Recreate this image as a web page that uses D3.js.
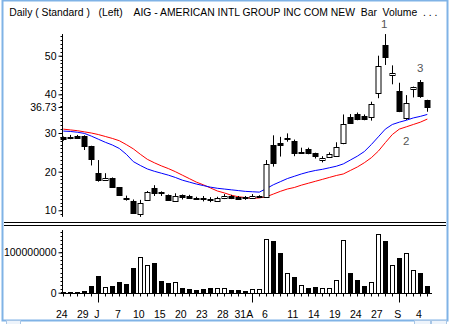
<!DOCTYPE html>
<html><head><meta charset="utf-8">
<script src="https://cdn.jsdelivr.net/npm/d3@7/dist/d3.min.js"></script>
<style>body{margin:0;background:#fff}svg{display:block}text{font-family:"Liberation Sans",Arial,sans-serif}</style>
</head><body><svg id="c" width="449" height="324"></svg>
<script>
const dates = ["6/24","6/25","6/26","6/29","6/30","7/1","7/2","7/6","7/7","7/8","7/9","7/10","7/13","7/14","7/15","7/16","7/17","7/20","7/21","7/22","7/23","7/24","7/27","7/28","7/29","7/30","7/31","8/3","8/4","8/5","8/6","8/7","8/10","8/11","8/12","8/13","8/14","8/17","8/18","8/19","8/20","8/21","8/24","8/25","8/26","8/27","8/28","8/31","9/1","9/2","9/3","9/4","9/8"];
const open  = [28.9,29.0,29.2,29.2,26.6,19.6,17.8,18.4,15.9,13.3,12.5,9.0,12.7,15.85,14.8,14.0,12.5,14.0,13.7,13.15,13.3,12.9,12.4,13.1,13.7,13.5,13.35,13.1,13.5,13.5,26.9,27.3,28.4,28.0,24.9,25.9,24.8,22.9,23.9,24.0,27.3,34.2,34.8,34.5,34.1,40.3,52.8,45.0,40.9,34.0,41.4,43.1,38.5];
const high  = [29.1,29.5,29.5,29.4,26.7,23.0,19.6,18.5,16.0,13.8,12.8,12.7,15.0,16.5,14.9,14.1,14.4,14.1,14.0,13.5,13.7,13.4,13.5,14.2,14.0,13.7,13.7,14.2,13.9,23.0,29.4,29.0,29.9,28.3,26.2,26.2,24.9,24.0,25.0,27.6,34.8,34.9,35.3,34.8,38.1,50.0,55.6,47.5,43.0,39.8,42.0,43.7,38.6];
const low   = [28.0,28.4,28.6,25.6,21.6,17.4,17.8,15.9,13.8,12.5,9.2,8.3,12.5,13.7,13.7,12.6,12.4,12.8,13.0,12.8,12.3,12.1,12.2,12.9,12.9,13.0,12.7,13.0,13.2,13.3,21.3,23.9,27.75,24.0,24.8,24.5,23.4,22.4,23.6,23.9,27.1,32.5,33.3,33.3,33.2,39.0,47.6,42.6,35.4,33.4,39.2,39.1,35.5];
const close = [28.5,28.9,28.8,26.6,23.2,17.8,18.4,16.1,14.0,13.0,9.4,11.8,14.7,14.4,14.4,12.7,13.7,13.5,13.3,13.05,12.9,12.8,13.3,13.7,13.1,13.0,13.25,13.8,13.6,21.9,22.3,27.0,28.8,24.9,25.2,24.9,24.0,23.5,24.6,26.5,32.2,32.7,33.7,33.6,37.4,47.4,49.7,45.4,35.8,37.7,41.8,39.6,36.73];
const volume = [2,2,2,4,16.5,41,14,16.5,26,21,60,88,69,74,29,24,26,12,9,7,9,12,12,11,7,7,5,9,9,132,129,98,48,39,18,12,14,11,11,31,131,49,31,16,26,145,129,68,86,98,56,50,17].map(v=>v*1e6);
const maBlue = [30.5,30.4,30.2,29.9,29.2,28.4,27.6,26.9,26.0,24.5,22.6,21.6,20.7,20.1,19.6,19.1,18.5,17.8,17.3,16.8,16.4,16.0,15.7,15.5,15.3,15.1,14.9,14.8,14.7,15.6,16.6,17.4,18.2,18.8,19.4,19.9,20.3,20.6,21.0,21.4,22.0,23.0,24.0,25.2,27.0,29.0,31.0,32.2,32.8,33.3,33.9,34.3,34.8];
const maRed  = [31.0,30.8,30.6,30.3,30.0,29.6,29.1,28.6,28.0,27.0,25.9,24.5,23.2,22.3,21.5,20.8,20.0,19.1,18.2,17.3,16.6,15.8,15.0,14.5,13.9,13.5,13.3,13.1,13.2,13.5,14.2,14.9,15.5,15.9,16.5,17.0,17.5,18.0,18.5,19.0,19.4,20.3,21.2,22.3,23.6,25.3,27.5,29.6,31.0,31.6,32.2,32.8,33.6];
const priceTicks = [10,20,30,36.73,40,50];
const volTicks = [0,100000000];
const xLabels = [["6/24","24"],["6/29","29"],["7/1","J"],["7/7","7"],["7/10","10"],["7/15","15"],["7/20","20"],["7/23","23"],["7/28","28"],["7/31","31A"],["8/5","6"],["8/11","11"],["8/14","14"],["8/19","19"],["8/24","24"],["8/27","27"],["9/1","S"],["9/4","4"]];
const monthStarts = ["7/1","8/3","9/1"];
const notes = [["8/28","1",-1,28],["9/4","3",0,72],["9/1","2",7,145]];
const titleText = "Daily ( Standard )   (Left)    AIG - AMERICAN INTL GROUP INC COM NEW  Bar  Volume  . . .";

const svg = d3.select("#c");
const frameCol = "#80b3e6";
svg.append("rect").attr("x",2.5).attr("y",0.5).attr("width",445).attr("height",320).attr("fill","none").attr("stroke",frameCol).attr("stroke-width",2);
svg.append("rect").attr("x",6.5).attr("y",320.5).attr("width",14).attr("height",4).attr("fill","#eef4fb").attr("stroke","#a8c6e6");
svg.append("rect").attr("x",414.5).attr("y",320.5).attr("width",16).attr("height",4).attr("fill","#eef4fb").attr("stroke","#a8c6e6");
svg.append("rect").attr("x",431.5).attr("y",320.5).attr("width",15).attr("height",4).attr("fill","#eef4fb").attr("stroke","#a8c6e6");

svg.append("text").attr("x",9.3).attr("y",16).attr("font-size","10px").style("white-space","pre")
  .attr("textLength",428).attr("lengthAdjust","spacingAndGlyphs").text(titleText);

[222.5,225.5].forEach(yy=>svg.append("line").attr("x1",4).attr("x2",446).attr("y1",yy).attr("y2",yy).attr("stroke","#000"));

const x = d3.scaleBand().domain(dates).range([59.8,430.8]).padding(0);
const cx = d=>x(d)+x.bandwidth()/2;
const y = d3.scaleLinear().domain([10,50]).range([210.3,55.7]);
const yv = d3.scaleLinear().domain([0,100000000]).range([292.7,252.3]);

const axX = 62.5;
svg.append("line").attr("x1",axX).attr("x2",axX).attr("y1",y(55.6)).attr("y2",y(8.3)).attr("stroke","#000");
svg.append("g").selectAll("line").data(d3.range(9,56,1)).join("line").attr("x1",axX-2).attr("x2",axX).attr("y1",d=>Math.round(y(d))+0.5).attr("y2",d=>Math.round(y(d))+0.5).attr("stroke","#000");
const gP = svg.append("g").attr("transform",`translate(${axX},0)`).call(d3.axisLeft(y).tickValues(priceTicks).tickSize(4).tickPadding(2).tickFormat(d=>d===36.73?"36.73":d3.format("d")(d)));
gP.select(".domain").remove();
gP.selectAll("text").attr("font-size","10.5px").attr("font-family","Liberation Sans, Arial, sans-serif").attr("fill","#000");

svg.append("line").attr("x1",axX).attr("x2",axX).attr("y1",yv(155e6)).attr("y2",yv(0)).attr("stroke","#000");
svg.append("g").selectAll("line").data(d3.range(0,156e6,10e6)).join("line").attr("x1",axX-2).attr("x2",axX).attr("y1",d=>Math.round(yv(d))+0.5).attr("y2",d=>Math.round(yv(d))+0.5).attr("stroke","#000");
const gV = svg.append("g").attr("transform",`translate(${axX},0)`).call(d3.axisLeft(yv).tickValues(volTicks).tickSize(4).tickPadding(2).tickFormat(d3.format("d")));
gV.select(".domain").remove();
gV.selectAll("text").attr("font-size","10.5px").attr("font-family","Liberation Sans, Arial, sans-serif").attr("fill","#000");

const base = Math.round(yv(0))+0.5;
svg.append("line").attr("x1",axX).attr("x2",432).attr("y1",base).attr("y2",base).attr("stroke","#000");
svg.append("g").selectAll("line").data(dates).join("line")
  .attr("x1",d=>Math.round(cx(d))+0.5).attr("x2",d=>Math.round(cx(d))+0.5)
  .attr("y1",base).attr("y2",d=>base+(monthStarts.includes(d)?9:3)).attr("stroke","#000");
svg.append("g").selectAll("text").data(xLabels).join("text")
  .attr("x",d=>cx(d[0])-1.5).attr("y",318).attr("text-anchor","middle").attr("font-size","10.5px").text(d=>d[1]);

const bw = 5;
svg.append("g").selectAll("rect").data(dates).join("rect")
  .attr("x",d=>Math.round(cx(d)-bw/2)+0.5).attr("width",bw-1)
  .attr("y",(d,i)=>Math.round(yv(volume[i]))+0.5).attr("height",(d,i)=>Math.max(0,Math.round(yv(0))-Math.round(yv(volume[i]))))
  .attr("fill",(d,i)=>close[i]>open[i]?"#fff":"#000").attr("stroke","#000");

const line = arr=>d3.line().x((d,i)=>cx(dates[i])).y(d=>y(d))(arr);
svg.append("path").attr("d",line(maRed)).attr("fill","none").attr("stroke","#ff0000").attr("stroke-width",1);
svg.append("path").attr("d",line(maBlue)).attr("fill","none").attr("stroke","#0000ff").attr("stroke-width",1);

const cg = svg.append("g");
dates.forEach((d,i)=>{
  const xc = Math.round(cx(d))+0.5;
  cg.append("line").attr("x1",xc).attr("x2",xc).attr("y1",y(high[i])).attr("y2",y(low[i])).attr("stroke","#000");
  const top = Math.round(y(Math.max(open[i],close[i])));
  const bot = Math.round(y(Math.min(open[i],close[i])));
  const h = Math.max(1,bot-top);
  cg.append("rect").attr("x",xc-2.5).attr("y",top+0.5).attr("width",5).attr("height",h)
    .attr("fill",close[i]>open[i]?"#fff":"#000").attr("stroke","#000");
});

notes.forEach(n=>svg.append("text").attr("x",cx(n[0])+n[2]).attr("y",n[3]).attr("text-anchor","middle").attr("font-size","11.5px").attr("fill","#555").text(n[1]));
</script></body></html>
